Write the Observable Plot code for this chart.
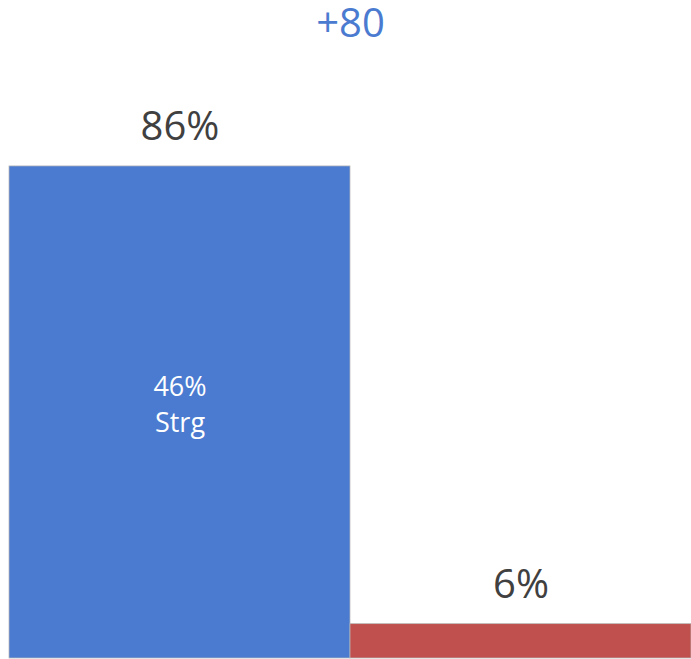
<!DOCTYPE html>
<html>
<head>
<meta charset="utf-8">
<script src="https://cdn.jsdelivr.net/npm/d3@7"></script>
<script src="https://cdn.jsdelivr.net/npm/@observablehq/plot@0.6"></script>
<style>
  html, body { margin: 0; padding: 0; background: #fff; }
  svg { display: block; }
</style>
</head>
<body>
<div id="chart"></div>
<script>
const categories = ["Group A", "Group B"];
const values = [86, 6];
const colors = ["#4a7bd0", "#c0504d"];
const strongLabel = ["46%\nStrg"];
const strongValue = [46];

const data = categories.map((c, i) => ({cat: c, value: values[i], color: colors[i]}));
const diff = values[0] - values[1];

const chart = Plot.plot({
  width: 691,
  height: 659,
  marginTop: 0,
  marginBottom: 1,
  marginLeft: 9,
  marginRight: 0,
  style: {fontFamily: "'Open Sans', sans-serif", background: "#fff"},
  x: {domain: categories, padding: 0, axis: null},
  y: {domain: [0, 115], axis: null},
  marks: [
    Plot.barY(data, {x: "cat", y: "value", fill: "color", stroke: "#b8b8b8", strokeWidth: 0.75}),
    Plot.text(data, {x: "cat", y: "value", text: d => d.value + "%", fontSize: 40, fill: "#404040", dy: -39}),
    Plot.text([{cat: categories[0], y: values[0] / 2, t: strongLabel[0]}], {x: "cat", y: "y", text: "t", fontSize: 27, lineHeight: 1.33, fill: "#ffffff", dy: -10}),
    Plot.text([("+" + diff)], {frameAnchor: "top", text: d => d, fontSize: 40, fill: "#4a7bd0", dy: 8})
  ]
});
document.getElementById("chart").appendChild(chart);
</script>
</body>
</html>
